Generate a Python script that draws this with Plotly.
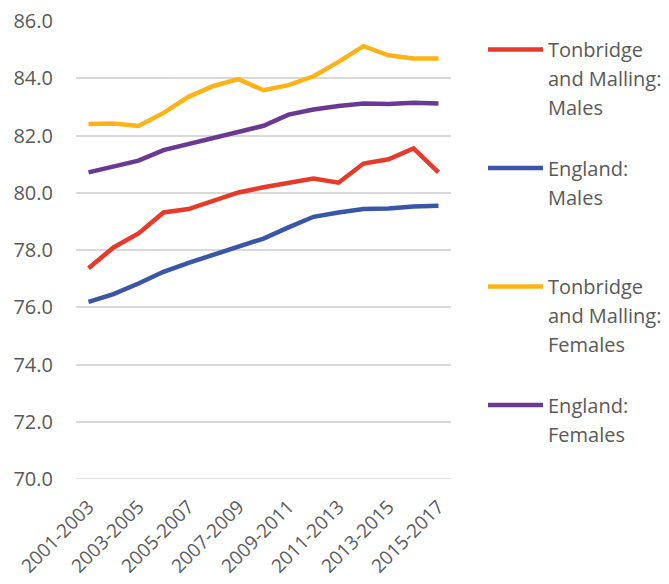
import plotly.graph_objects as go

# Three-year periods
periods = [f"{y}-{y + 2}" for y in range(2001, 2016)]

# Life expectancy at birth (years)
tm_males = [77.36, 78.09, 78.58, 79.31, 79.43, 79.74, 80.01, 80.19,
            80.33, 80.50, 80.35, 81.02, 81.17, 81.55, 80.71]
eng_males = [76.19, 76.46, 76.83, 77.24, 77.55, 77.82, 78.11, 78.40,
             78.79, 79.16, 79.31, 79.43, 79.45, 79.52, 79.55]
tm_females = [82.40, 82.42, 82.33, 82.79, 83.35, 83.73, 83.97, 83.58,
              83.76, 84.07, 84.57, 85.12, 84.80, 84.69, 84.69]
eng_females = [80.71, 80.91, 81.12, 81.49, 81.70, 81.90, 82.13, 82.34,
               82.73, 82.91, 83.03, 83.12, 83.10, 83.14, 83.12]

series_names = [
    ["Tonbridge", "and Malling:", "Males"],
    ["England:", "Males"],
    ["Tonbridge", "and Malling:", "Females"],
    ["England:", "Females"],
]
series_values = [tm_males, eng_males, tm_females, eng_females]
colors = ["#E63A2B", "#3A56A6", "#FBB317", "#6A3A92"]

W, H = 669, 584
L, R, T, B = 76, 218, 21, 105
FONT = "Open Sans"
GREY = "#595959"
GRID = "#D9D9D9"

fig = go.Figure()
for vals, col, name in zip(series_values, colors, series_names):
    fig.add_trace(go.Scatter(
        x=periods, y=vals, mode="lines", name=" ".join(name),
        line=dict(color=col, width=4.5),
        showlegend=False,
    ))

# Bottom gridline at the axis floor (drawn explicitly so it is not dropped)
fig.add_shape(type="line", xref="paper", yref="y", x0=0, x1=1, y0=70, y1=70,
              line=dict(color=GRID, width=1.5), layer="below")

# Hand-built legend: a short line swatch and wrapped label per series
plot_w = W - L - R
plot_h = H - T - B


def px_x(p):
    return (p - L) / plot_w


def px_y(p):
    return (H - B - p) / plot_h


legend_rows = [49.5, 168, 286.5, 405]
line_pitch = 29
for row_y, col, name in zip(legend_rows, colors, series_names):
    fig.add_shape(type="line", xref="paper", yref="paper",
                  x0=px_x(488), x1=px_x(543), y0=px_y(row_y), y1=px_y(row_y),
                  line=dict(color=col, width=4.5))
    for i, part in enumerate(name):
        fig.add_annotation(xref="paper", yref="paper",
                           x=px_x(546), y=px_y(row_y + i * line_pitch),
                           xanchor="left", yanchor="middle", showarrow=False,
                           text=part, font=dict(family=FONT, size=20, color=GREY))

fig.update_layout(
    width=W, height=H,
    margin=dict(l=L, r=R, t=T, b=B),
    plot_bgcolor="white", paper_bgcolor="white",
    font=dict(family=FONT, size=20, color=GREY),
)
fig.update_xaxes(
    type="category", range=[-0.5, len(periods) - 0.5],
    tickmode="array", tickvals=periods[::2],
    tickangle=-45, showgrid=False, zeroline=False, showline=False,
    automargin=False, ticklabelstandoff=12,
    tickfont=dict(family=FONT, size=19, color=GREY),
)
fig.update_yaxes(
    range=[70, 86], dtick=2, tickformat=".1f",
    showgrid=True, gridcolor=GRID, gridwidth=1.5,
    zeroline=False, showline=False, automargin=False, ticklabelstandoff=22,
    tickfont=dict(family=FONT, size=20, color=GREY),
)

fig.write_html("out.html")
